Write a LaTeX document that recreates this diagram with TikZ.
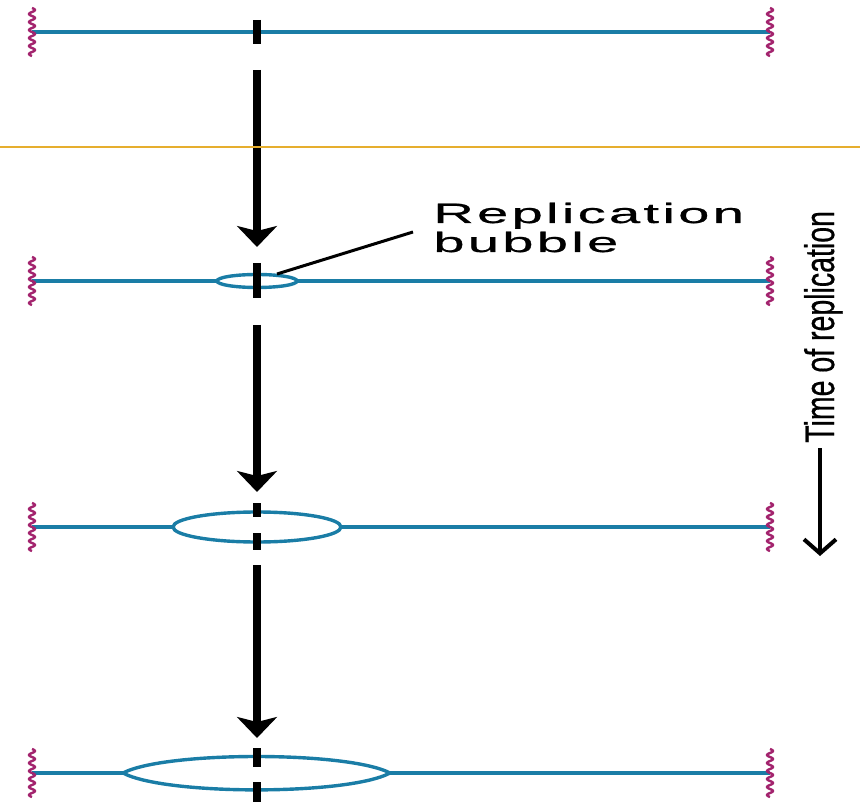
\documentclass[tikz,border=0pt]{standalone}
\usepackage{fontspec}
\setmainfont{Liberation Sans}
\newfontfamily\labelfont[LetterSpace=6,FakeBold=0.6]{Liberation Sans}
\newfontfamily\timefont[FakeBold=0.6]{Liberation Sans}
\usetikzlibrary{arrows.meta}
\definecolor{dnablue}{HTML}{1A7DA6}
\definecolor{endmag}{HTML}{A3246E}
\definecolor{goldline}{HTML}{E6AE2E}
\tikzset{
  dna/.style={draw=dnablue, line width=3.4pt},
  wavy/.style={draw=endmag, line width=2.4pt},
  origin/.style={draw=black, line width=8pt},
  timearrow/.style={origin, -{Stealth[length=21pt,width=40pt,inset=5pt]}},
  leader/.style={draw=black, line width=3pt},
}
\newcommand\wavyend[2]{\draw[wavy] plot[domain=-24:24, samples=97, smooth] ({#1+3*sin(\x*45)},{#2+\x});}
\begin{document}
\begin{tikzpicture}[x=1pt, y=-1pt]
\useasboundingbox (0,0) rectangle (860,802);
% DNA lines
\draw[dna] (32,32) -- (770,32);
\draw[dna] (32,281) -- (217,281);
\draw[dna] (297,281) -- (770,281);
\draw[dna] (257,281) ellipse [x radius=40, y radius=6.5];
\draw[dna] (32,527) -- (173,527);
\draw[dna] (341,527) -- (770,527);
\draw[dna] (257,527) ellipse [x radius=84, y radius=15];
\draw[dna] (32,773) -- (123,773);
\draw[dna] (390,773) -- (770,773);
\draw[dna] (123,773) .. controls (165,751) and (348,751) .. (390,773)
           .. controls (348,795.5) and (165,795.5) .. (123,773);
% wavy ends
\wavyend{32}{32}
\wavyend{770}{32}
\wavyend{32}{281}
\wavyend{770}{281}
\wavyend{32}{527}
\wavyend{770}{527}
\wavyend{32}{773}
\wavyend{770}{773}
% origin axis and time arrows
\coordinate (d1a) at (257,20);  \coordinate (d1b) at (257,44);
\coordinate (a1a) at (257,70);  \coordinate (a1b) at (257,247);
\coordinate (d2a) at (257,263); \coordinate (d2b) at (257,298);
\coordinate (a2a) at (257,325); \coordinate (a2b) at (257,492);
\coordinate (d3a) at (257,503); \coordinate (d3b) at (257,517);
\coordinate (d3c) at (257,533); \coordinate (d3d) at (257,550);
\coordinate (a3a) at (257,565); \coordinate (a3b) at (257,738);
\coordinate (d4a) at (257,748); \coordinate (d4b) at (257,767);
\coordinate (d4c) at (257,782); \coordinate (d4d) at (257,802);
\draw[origin] (d1a) -- (d1b);
\draw[timearrow] (a1a) -- (a1b);
\draw[origin] (d2a) -- (d2b);
\draw[timearrow] (a2a) -- (a2b);
\draw[origin] (d3a) -- (d3b);
\draw[origin] (d3c) -- (d3d);
\draw[timearrow] (a3a) -- (a3b);
\draw[origin] (d4a) -- (d4b);
\draw[origin] (d4c) -- (d4d);
% gold line
\draw[draw=goldline, line width=2.8pt] (0,147) -- (860,147);
% label
\node[anchor=base west, inner sep=0, xscale=2.0, font=\labelfont\fontsize{28}{29}\selectfont] (rep1) at (433,223) {Replication};
\node[anchor=base west, inner sep=0, xscale=2.0, font=\labelfont\fontsize{28}{29}\selectfont] (rep2) at (433,252) {bubble};
\coordinate (bubtip) at (277,274);
\coordinate (leadend) at (413,232);
\draw[leader] (bubtip) -- (leadend);
% time of replication
\node[rotate=90, yscale=1.45, anchor=base west, inner sep=0, font=\timefont\fontsize{28.5}{30}\selectfont] (time) at (834,443) {Time of replication};
\coordinate (tarrA) at (820,448);
\coordinate (tarrB) at (820,556);
\draw[draw=black, line width=4.5pt, -{Straight Barb[length=14pt,width=32pt,line width=4pt]}] (tarrA) -- (tarrB);
\end{tikzpicture}
\end{document}
